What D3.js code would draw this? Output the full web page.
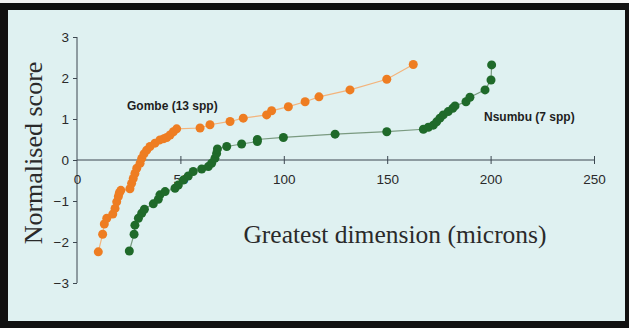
<!DOCTYPE html>
<html><head><meta charset="utf-8">
<script src="https://cdn.jsdelivr.net/npm/d3@7"></script>
<style>body{margin:0;background:#fff}svg{display:block}</style>
</head><body>
<svg id="c" width="629" height="328"></svg>
<script>
const xTicks = [0, 50, 100, 150, 200, 250];
const yTicks = [-3, -2, -1, 0, 1, 2, 3];

const gombeX = [10.3, 12.4, 13.2, 14.4, 17.3, 18.4, 19.2, 20.0, 20.5, 21.2, 25.6, 26.4, 27.2, 28.0, 28.9, 30.5, 31.3, 32.4, 33.7, 35.3, 37.7, 40.1, 42.0, 43.4, 45.0, 46.6, 48.2, 59.5, 64.3, 74.0, 80.4, 91.7, 94.1, 102.2, 110.3, 117.0, 132.0, 149.8, 162.6];
const gombeY = [-2.24, -1.81, -1.56, -1.42, -1.32, -1.18, -1.02, -0.89, -0.80, -0.74, -0.70, -0.57, -0.45, -0.33, -0.20, -0.08, 0.04, 0.15, 0.24, 0.33, 0.41, 0.49, 0.52, 0.55, 0.61, 0.69, 0.76, 0.78, 0.86, 0.94, 1.02, 1.10, 1.20, 1.30, 1.42, 1.54, 1.71, 1.97, 2.33];

const nsumbuX = [25.3, 27.6, 28.0, 29.7, 31.3, 32.6, 36.9, 39.3, 40.1, 42.6, 47.4, 49.0, 51.4, 53.8, 56.2, 60.3, 63.5, 65.1, 66.7, 67.5, 67.9, 72.4, 79.6, 87.2, 87.2, 99.8, 124.8, 149.8, 167.5, 169.9, 172.3, 173.9, 175.5, 177.1, 179.5, 181.7, 182.8, 188.1, 190.0, 197.3, 200.2, 200.5];
const nsumbuY = [-2.22, -1.81, -1.59, -1.42, -1.30, -1.20, -1.07, -0.96, -0.85, -0.77, -0.69, -0.61, -0.49, -0.39, -0.28, -0.22, -0.16, -0.08, 0.04, 0.16, 0.27, 0.33, 0.39, 0.45, 0.50, 0.55, 0.63, 0.69, 0.75, 0.80, 0.85, 0.93, 1.02, 1.10, 1.18, 1.26, 1.32, 1.42, 1.53, 1.71, 1.95, 2.32];

const series = [
  {name: "Gombe (13 spp)", xs: gombeX, ys: gombeY, color: "#ee7d22", line: "#f3b47c", lx: 127, ly: 110},
  {name: "Nsumbu (7 spp)", xs: nsumbuX, ys: nsumbuY, color: "#1f6a2a", line: "#7a9a80", lx: 484, ly: 121}
];

const svg = d3.select("#c");
// frame
svg.append("rect").attr("width", 629).attr("height", 328).attr("fill", "#111");
svg.append("rect").attr("width", 629).attr("height", 3).attr("fill", "#f4f4f4");
svg.append("rect").attr("x", 8).attr("y", 10).attr("width", 617).attr("height", 311).attr("fill", "#dff1f1");

const x = d3.scaleLinear().domain([0, 250]).range([77, 594]);
const y = d3.scaleLinear().domain([-3, 3]).range([283, 37]);

const axisColor = "#3c4750";
const tickFont = "Liberation Sans, Arial, sans-serif";

// y axis
const gy = svg.append("g").attr("transform", "translate(77,0)")
  .call(d3.axisLeft(y).tickValues(yTicks).tickSize(4).tickPadding(4).tickFormat(d3.format("d")));
gy.select(".domain").attr("stroke", axisColor).attr("d", `M0,${y(3)}V${y(-3)}`);
gy.selectAll(".tick line").attr("stroke", axisColor);
gy.selectAll(".tick text").attr("fill", "#2a2a2a").attr("font-family", tickFont).attr("font-size", 13.5);

// x axis
const gx = svg.append("g").attr("transform", `translate(0,${y(0)})`)
  .call(d3.axisBottom(x).tickValues(xTicks).tickSize(4).tickPadding(10).tickFormat(d3.format("d")));
gx.select(".domain").attr("stroke", axisColor).attr("d", `M${x(0)},0H${x(250)}`);
gx.selectAll(".tick line").attr("stroke", axisColor).attr("y1", -4).attr("y2", 4);
gx.selectAll(".tick").filter(d => d === 0).select("line").remove();
gx.selectAll(".tick text").attr("fill", "#2a2a2a").attr("font-family", tickFont).attr("font-size", 13.5);

// series
series.forEach(s => {
  const pts = s.xs.map((v, i) => [v, s.ys[i]]);
  svg.append("path").datum(pts)
    .attr("fill", "none").attr("stroke", s.line).attr("stroke-width", 1.2)
    .attr("d", d3.line().x(d => x(d[0])).y(d => y(d[1])));
  svg.append("g").selectAll("circle").data(pts).join("circle")
    .attr("cx", d => x(d[0])).attr("cy", d => y(d[1])).attr("r", 4.5)
    .attr("fill", s.color);
  svg.append("text").attr("x", s.lx).attr("y", s.ly)
    .attr("font-family", tickFont).attr("font-weight", "bold").attr("font-size", 12)
    .attr("fill", "#1e1e1e").text(s.name);
});

// axis titles
svg.append("text").attr("x", 395).attr("y", 243).attr("text-anchor", "middle")
  .attr("font-family", "Liberation Serif, DejaVu Serif, serif").attr("font-size", 25.5)
  .attr("fill", "#2a2a2a").text("Greatest dimension (microns)");
svg.append("text").attr("transform", "translate(42,153) rotate(-90)").attr("text-anchor", "middle")
  .attr("font-family", "Liberation Serif, DejaVu Serif, serif").attr("font-size", 26)
  .attr("fill", "#2a2a2a").text("Normalised score");
</script>
</body></html>
